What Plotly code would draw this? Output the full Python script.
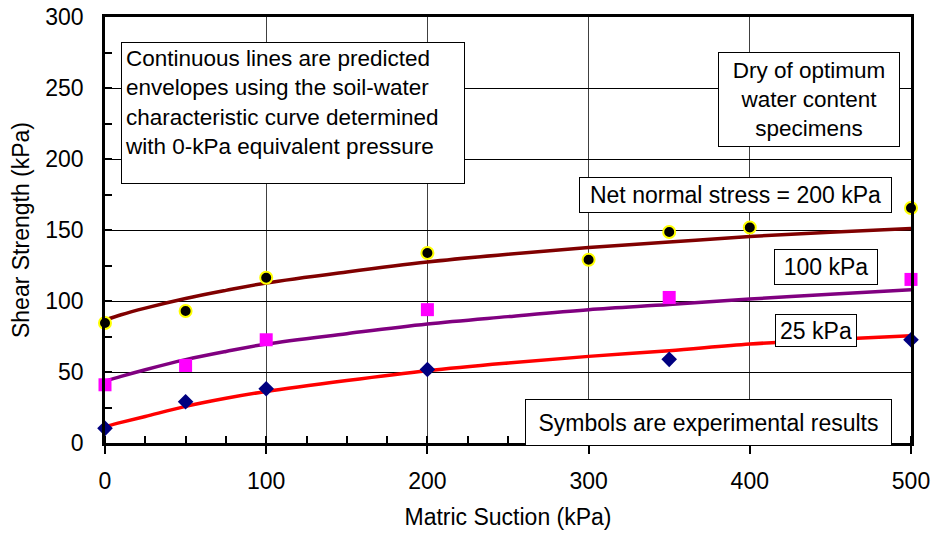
import plotly.graph_objects as go

# ---- data ----
curve_x = [0, 10, 25, 50, 75, 100, 150, 200, 250, 300, 350, 400, 450, 500]
pred_200 = [86.5, 90.3, 95.0, 101.8, 107.5, 112.7, 120.5, 127.5, 133.0, 137.7, 141.5, 145.5, 148.5, 151.0]
pred_100 = [43.5, 46.9, 51.6, 58.7, 64.5, 69.7, 77.0, 83.8, 89.0, 93.9, 97.5, 101.4, 104.8, 108.0]
pred_25 = [11.5, 14.5, 18.7, 25.8, 31.5, 36.3, 44.0, 50.9, 56.3, 61.0, 65.0, 69.7, 72.8, 75.6]

exp200_x = [0, 50, 100, 200, 300, 350, 400, 500]
exp200_y = [84.5, 93.0, 116.4, 133.8, 129.0, 148.6, 151.8, 165.5]
exp100_x = [0, 50, 100, 200, 350, 500]
exp100_y = [41.0, 54.6, 72.7, 93.9, 102.5, 115.2]
exp25_x = [0, 50, 100, 200, 350, 500]
exp25_y = [10.3, 29.0, 38.2, 51.8, 58.9, 72.7]

x_ticks = [0, 100, 200, 300, 400, 500]
y_ticks = [0, 50, 100, 150, 200, 250, 300]

FONT = "Arial, Liberation Sans, sans-serif"

fig = go.Figure()

for ys, col in [(pred_200, "#800000"), (pred_100, "#800080"), (pred_25, "#FF0000")]:
    fig.add_trace(go.Scatter(x=curve_x, y=ys, mode="lines",
                             line=dict(color=col, width=3.5, shape="spline"),
                             showlegend=False, hoverinfo="skip"))

fig.add_trace(go.Scatter(x=exp200_x, y=exp200_y, mode="markers", cliponaxis=False,
                         marker=dict(symbol="circle", size=12, color="#000000",
                                     line=dict(color="#FFFF00", width=2)),
                         showlegend=False))
fig.add_trace(go.Scatter(x=exp100_x, y=exp100_y, mode="markers", cliponaxis=False,
                         marker=dict(symbol="square", size=13, color="#FF00FF",
                                     line=dict(width=0)),
                         showlegend=False))
fig.add_trace(go.Scatter(x=exp25_x, y=exp25_y, mode="markers", cliponaxis=False,
                         marker=dict(symbol="diamond", size=12, color="#000080",
                                     line=dict(width=0)),
                         showlegend=False))


def box(text, x0, y0, w, h, align="center", valign="middle", pad=4, size=23):
    fig.add_annotation(x=x0, y=y0, xref="x", yref="y", xanchor="left", yanchor="top",
                       text=text, showarrow=False, align=align, valign=valign,
                       width=w - 2 * (pad + 1), height=h - 2 * (pad + 1),
                       borderpad=pad, borderwidth=1, bordercolor="#000000",
                       bgcolor="#FFFFFF", font=dict(family=FONT, size=size, color="#000000"))


box("Continuous lines are predicted<br>envelopes using the soil-water<br>"
    "characteristic curve determined<br>with 0-kPa equivalent pressure",
    9.9, 282.4, 344, 142, align="left", valign="top", pad=3, size=22.5)
box("Dry of optimum<br>water content<br>specimens", 380.3, 275.4, 182, 95, size=22.5)
box("Net normal stress = 200 kPa", 294.0, 187.3, 313, 36)
box("100 kPa", 415.0, 136.6, 104, 36)
box("25 kPa", 415.6, 90.8, 82, 33)
box("Symbols are experimental results", 260.5, 31.0, 367, 47)

fig.update_layout(
    width=935, height=535,
    margin=dict(l=105, r=24, t=17, b=92),
    paper_bgcolor="#FFFFFF", plot_bgcolor="#FFFFFF",
    font=dict(family=FONT, size=23, color="#000000"),
    showlegend=False,
)
fig.update_xaxes(
    range=[0, 500], tickvals=x_ticks, ticktext=[str(v) for v in x_ticks],
    automargin=False,
    showgrid=True, gridcolor="#404040", gridwidth=1,
    showline=True, linecolor="#000000", linewidth=2.5, mirror=True,
    ticks="outside", ticklen=8, tickwidth=2, tickcolor="#000000",
    minor=dict(dtick=25, tick0=0, ticks="inside", ticklen=7, tickwidth=1.5,
               tickcolor="#000000", showgrid=False),
    zeroline=False, ticklabelstandoff=8,
    title=dict(text="Matric Suction (kPa)", standoff=16, font=dict(size=23)),
    tickfont=dict(size=23),
)
fig.update_yaxes(
    range=[0, 300], tickvals=y_ticks, ticktext=[str(v) for v in y_ticks],
    automargin=False,
    showgrid=True, gridcolor="#000000", gridwidth=1,
    showline=True, linecolor="#000000", linewidth=2.5, mirror=True,
    ticks="inside", ticklen=7, tickwidth=2, tickcolor="#000000",
    minor=dict(dtick=25, tick0=0, ticks="inside", ticklen=7, tickwidth=1.5,
               tickcolor="#000000", showgrid=False),
    zeroline=False, ticklabelstandoff=14,
    title=dict(text="Shear Strength (kPa)", standoff=10, font=dict(size=23)),
    tickfont=dict(size=23),
)

fig.write_html("out.html")
